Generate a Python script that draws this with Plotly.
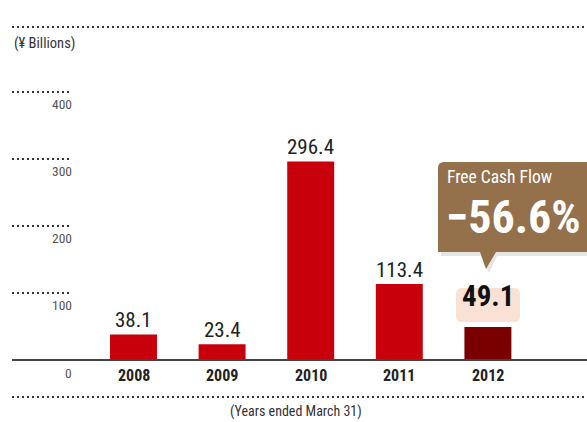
import plotly.graph_objects as go

years = ["2008", "2009", "2010", "2011", "2012"]
values = [38.1, 23.4, 296.4, 113.4, 49.1]
bar_colors = ["#c8000b", "#c8000b", "#c8000b", "#c8000b", "#7a0000"]
y_ticks = [0, 100, 200, 300, 400]

W, H = 587, 422
FONT = "Roboto Condensed, Roboto, sans-serif"

def px(x):
    return x / W

def py(y):
    return 1 - y / H

xs = list(range(len(years)))
fig = go.Figure()
fig.add_trace(go.Bar(x=xs, y=values, marker=dict(color=bar_colors, line=dict(width=0)),
                     width=0.53, hoverinfo="skip"))

shapes = []
ann = []
# top / bottom dotted rules
for yy in (27, 397):
    shapes.append(dict(type="line", xref="paper", yref="paper", x0=px(12), x1=1, y0=py(yy), y1=py(yy),
                       line=dict(color="#333", width=2, dash="2px,3px")))
# short dotted gridlines and tick labels
for t in y_ticks:
    if t > 0:
        shapes.append(dict(type="line", xref="paper", yref="y", x0=px(12), x1=px(70), y0=t, y1=t,
                           line=dict(color="#333", width=2, dash="2px,3px")))
    ann.append(dict(x=px(74), xref="paper", y=t, yref="y", text=str(t), showarrow=False,
                    xanchor="right", yanchor="top", yshift=-2 if t > 0 else -3,
                    font=dict(family=FONT, size=13.5, color="#555")))
# baseline
shapes.append(dict(type="line", xref="paper", yref="y", x0=px(12), x1=1, y0=0, y1=0,
                   line=dict(color="#444", width=2)))
# year labels
for i, yr in enumerate(years):
    ann.append(dict(x=i, y=0, text=f"<b>{yr}</b>", showarrow=False, yanchor="top", yshift=-4,
                    font=dict(family=FONT, size=16, color="#222")))
# value labels
for i, v in enumerate(values):
    if i == len(values) - 1:
        ann.append(dict(x=i, y=v, text=f"<b>{v}</b>", showarrow=False, yanchor="bottom", yshift=12,
                        font=dict(family=FONT, size=29, color="#111")))
    else:
        ann.append(dict(x=i, y=v, text=f"{v}", showarrow=False, yanchor="bottom", yshift=0,
                        font=dict(family=FONT, size=21, color="#222")))
# peach box behind 49.1
shapes.insert(0, dict(type="path", xref="paper", yref="paper", layer="below",
                      path=(f"M{px(462)},{py(288)} L{px(514)},{py(288)} Q{px(520)},{py(288)} {px(520)},{py(294)} "
                            f"L{px(520)},{py(316)} Q{px(520)},{py(322)} {px(514)},{py(322)} "
                            f"L{px(462)},{py(322)} Q{px(456)},{py(322)} {px(456)},{py(316)} "
                            f"L{px(456)},{py(294)} Q{px(456)},{py(288)} {px(462)},{py(288)} Z"),
                      fillcolor="#fae1d5", line=dict(width=0)))
# callout shadow + box
shapes.append(dict(type="path", xref="paper", yref="paper",
                   path=(f"M{px(441)},{py(166)} L{px(600)},{py(166)} L{px(600)},{py(256)} L{px(497)},{py(256)} "
                         f"L{px(489)},{py(273)} L{px(481)},{py(256)} L{px(441)},{py(256)} Z"),
                   fillcolor="rgba(0,0,0,0.10)", line=dict(width=0)))
shapes.append(dict(type="path", xref="paper", yref="paper",
                   path=(f"M{px(444)},{py(162)} L{px(600)},{py(162)} L{px(600)},{py(252)} L{px(496)},{py(252)} "
                         f"L{px(486)},{py(269)} L{px(480)},{py(252)} L{px(438)},{py(252)} L{px(438)},{py(168)} "
                         f"Q{px(438)},{py(162)} {px(444)},{py(162)} Z"),
                   fillcolor="#94714b", line=dict(width=0)))
ann.append(dict(x=px(445), y=py(177), xref="paper", yref="paper", text="Free Cash Flow", showarrow=False,
                xanchor="left", yanchor="middle", font=dict(family=FONT, size=17.5, color="white")))
ann.append(dict(x=px(444), y=py(217), xref="paper", yref="paper", text="<b>\u221256.6%</b>", showarrow=False,
                xanchor="left", yanchor="middle", font=dict(family=FONT, size=46, color="white")))
# unit / footer texts
ann.append(dict(x=px(12), y=py(43), xref="paper", yref="paper", text="(\u00a5 Billions)", showarrow=False,
                xanchor="left", yanchor="middle", font=dict(family=FONT, size=14.5, color="#333")))
ann.append(dict(x=px(296), y=py(411), xref="paper", yref="paper", text="(Years ended March 31)", showarrow=False,
                xanchor="center", yanchor="middle", font=dict(family=FONT, size=14, color="#333")))

x0 = -133.5 / 88.6
x1 = (W - 133.5) / 88.6
fig.update_layout(
    width=W, height=H, margin=dict(l=0, r=0, t=0, b=0),
    paper_bgcolor="white", plot_bgcolor="white", showlegend=False,
    xaxis=dict(range=[x0, x1], visible=False, fixedrange=True),
    yaxis=dict(range=[-62 / 0.67, 360 / 0.67], visible=False, fixedrange=True),
    shapes=shapes, annotations=ann,
)
fig.write_html("out.html")
